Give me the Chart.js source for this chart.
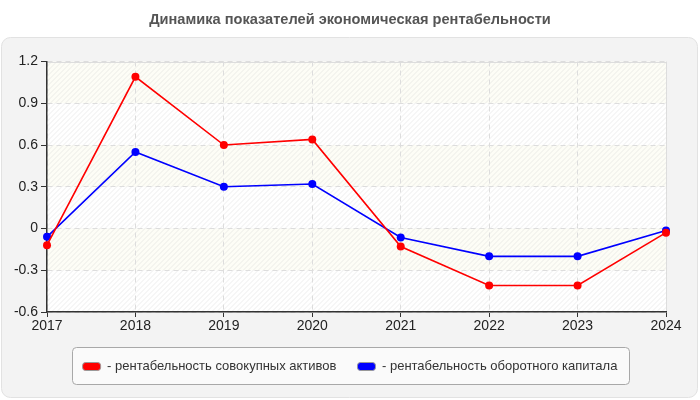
<!DOCTYPE html>
<html><head><meta charset="utf-8">
<script src="https://cdn.jsdelivr.net/npm/chart.js@4/dist/chart.umd.min.js"></script>
<style>html,body{margin:0;padding:0;background:#fff;}#wrap{width:700px;height:400px;}</style>
</head><body><div id="wrap"><canvas id="c" width="700" height="400"></canvas></div>
<script>
const years = ['2017','2018','2019','2020','2021','2022','2023','2024'];
const assetsReturn = [-0.12, 1.09, 0.60, 0.64, -0.13, -0.41, -0.41, -0.03];
const workingCapitalReturn = [-0.06, 0.55, 0.30, 0.32, -0.065, -0.20, -0.20, -0.015];
const seriesNames = ['- рентабельность совокупных активов', '- рентабельность оборотного капитала'];
const titleText = 'Динамика показателей экономическая рентабельности';
const yTicks = [-0.6, -0.3, 0, 0.3, 0.6, 0.9, 1.2];

const FONT = "'Liberation Sans', Arial, sans-serif";

function rr(ctx, x, y, w, h, r) {
  ctx.beginPath();
  ctx.moveTo(x + r, y);
  ctx.lineTo(x + w - r, y); ctx.arcTo(x + w, y, x + w, y + r, r);
  ctx.lineTo(x + w, y + h - r); ctx.arcTo(x + w, y + h, x + w - r, y + h, r);
  ctx.lineTo(x + r, y + h); ctx.arcTo(x, y + h, x, y + h - r, r);
  ctx.lineTo(x, y + r); ctx.arcTo(x, y, x + r, y, r);
  ctx.closePath();
}

const bgPlugin = {
  id: 'bg',
  beforeDraw(chart) {
    const ctx = chart.ctx, a = chart.chartArea, ys = chart.scales.y;
    ctx.save();
    ctx.fillStyle = '#fff';
    ctx.fillRect(0, 0, chart.width, chart.height);
    rr(ctx, 1.5, 37.5, 696, 360, 9);
    ctx.fillStyle = '#f3f3f3'; ctx.fill();
    ctx.strokeStyle = '#e2e2e2'; ctx.lineWidth = 1; ctx.stroke();
    for (let i = 0; i < yTicks.length - 1; i++) {
      const yTop = ys.getPixelForValue(yTicks[yTicks.length - 1 - i]);
      const yBot = ys.getPixelForValue(yTicks[yTicks.length - 2 - i]);
      ctx.fillStyle = (i % 2 === 0) ? '#fdfdf6' : '#ffffff';
      ctx.fillRect(a.left, yTop, a.right - a.left, yBot - yTop);
    }
    ctx.beginPath();
    ctx.rect(a.left, a.top, a.right - a.left, a.bottom - a.top);
    ctx.clip();
    ctx.strokeStyle = 'rgba(205,205,205,0.35)';
    ctx.lineWidth = 1;
    ctx.beginPath();
    const h = a.bottom - a.top;
    for (let x = a.left - h; x < a.right + 5; x += 5) {
      ctx.moveTo(x, a.bottom);
      ctx.lineTo(x + h, a.top);
    }
    ctx.stroke();
    ctx.restore();
    ctx.save();
    ctx.strokeStyle = '#dddddd';
    ctx.lineWidth = 1;
    ctx.beginPath();
    ctx.moveTo(Math.round(a.left) + 0.5, Math.round(a.top) + 0.5);
    ctx.lineTo(Math.round(a.right) + 0.5, Math.round(a.top) + 0.5);
    ctx.lineTo(Math.round(a.right) + 0.5, Math.round(a.bottom));
    ctx.stroke();
    ctx.restore();
  }
};

const centerBoxes = {
  id: 'centerBoxes',
  afterUpdate(chart) {
    const lg = chart.legend;
    if (lg) {
      const top = lg.top, bottom = lg.bottom;
      lg.fit();
      lg.left = 0; lg.right = chart.width; lg.width = chart.width;
      lg.top = top; lg.bottom = bottom; lg.height = bottom - top;
      lg.adjustHitBoxes();
    }
    const tb = chart.titleBlock;
    if (tb) { tb.left = 0; tb.right = chart.width; tb.width = chart.width; }
  }
};

const legendFrame = {
  id: 'legendFrame',
  beforeDraw(chart) {
    const lg = chart.legend;
    if (!lg || !lg.legendHitBoxes || !lg.legendHitBoxes.length) return;
    const hb = lg.legendHitBoxes;
    let l = Infinity, r = -Infinity, t = Infinity, b = -Infinity;
    hb.forEach(h => { l = Math.min(l, h.left); r = Math.max(r, h.left + h.width); t = Math.min(t, h.top); b = Math.max(b, h.top + h.height); });
    const cy = (t + b) / 2;
    const ctx = chart.ctx;
    ctx.save();
    rr(ctx, Math.round(l - 11) + 0.5, Math.round(cy - 20) + 0.5, Math.round(r - l + 22), 37, 4);
    ctx.fillStyle = '#fafafa'; ctx.fill();
    ctx.strokeStyle = '#a8a8a8'; ctx.lineWidth = 1; ctx.stroke();
    ctx.restore();
  }
};

new Chart(document.getElementById('c'), {
  type: 'line',
  data: {
    labels: years,
    datasets: [
      { label: seriesNames[0], data: assetsReturn, borderColor: '#ff0000', backgroundColor: '#ff0000', borderWidth: 1.6, pointRadius: 4, pointBackgroundColor: '#ff0000', pointBorderWidth: 0, tension: 0 },
      { label: seriesNames[1], data: workingCapitalReturn, borderColor: '#0000ff', backgroundColor: '#0000ff', borderWidth: 1.6, pointRadius: 4, pointBackgroundColor: '#0000ff', pointBorderWidth: 0, tension: 0 }
    ]
  },
  options: {
    responsive: false,
    animation: false,
    devicePixelRatio: 1,
    layout: { padding: { left: 7, right: 34, top: 0, bottom: 17 } },
    plugins: {
      title: { display: true, text: titleText, color: '#555555', font: { family: FONT, size: 14.6, weight: 'bold' }, padding: { top: 11, bottom: 33 } },
      legend: {
        position: 'bottom',
        labels: {
          color: '#333333', font: { family: FONT, size: 13 }, boxWidth: 18, boxHeight: 8, padding: 21,
          useBorderRadius: true, borderRadius: 3,
          generateLabels(chart) {
            return chart.data.datasets.map((d, i) => ({ text: d.label, fillStyle: d.borderColor, strokeStyle: '#999', lineWidth: 1, datasetIndex: i, fontColor: '#333333', borderRadius: 3 }));
          }
        }
      },
      tooltip: { enabled: false }
    },
    scales: {
      x: {
        type: 'category', offset: false,
        grid: { color: '#dddddd', lineWidth: 1, tickLength: 5, drawTicks: true, tickColor: '#333' },
        border: { color: '#333333', width: 1.5, dash: [5, 4] },
        ticks: { color: '#222222', font: { family: FONT, size: 14 }, padding: 1, maxRotation: 0, autoSkip: false },
        afterFit(s) { s.height = 27; }
      },
      y: {
        min: -0.6, max: 1.2,
        afterBuildTicks(s) { s.ticks = yTicks.map(v => ({ value: v })); },
        grid: { color: '#dddddd', lineWidth: 1, tickLength: 6, tickColor: '#333' },
        border: { color: '#333333', width: 1.5, dash: [5, 4] },
        ticks: { color: '#222222', font: { family: FONT, size: 14 }, padding: 3, callback: v => (Math.abs(v) < 1e-9 ? '0' : String(Math.round(v * 10) / 10)) },
        afterFit(s) { s.width = 40; }
      }
    }
  },
  plugins: [bgPlugin, centerBoxes, legendFrame]
});
</script>
</body></html>
